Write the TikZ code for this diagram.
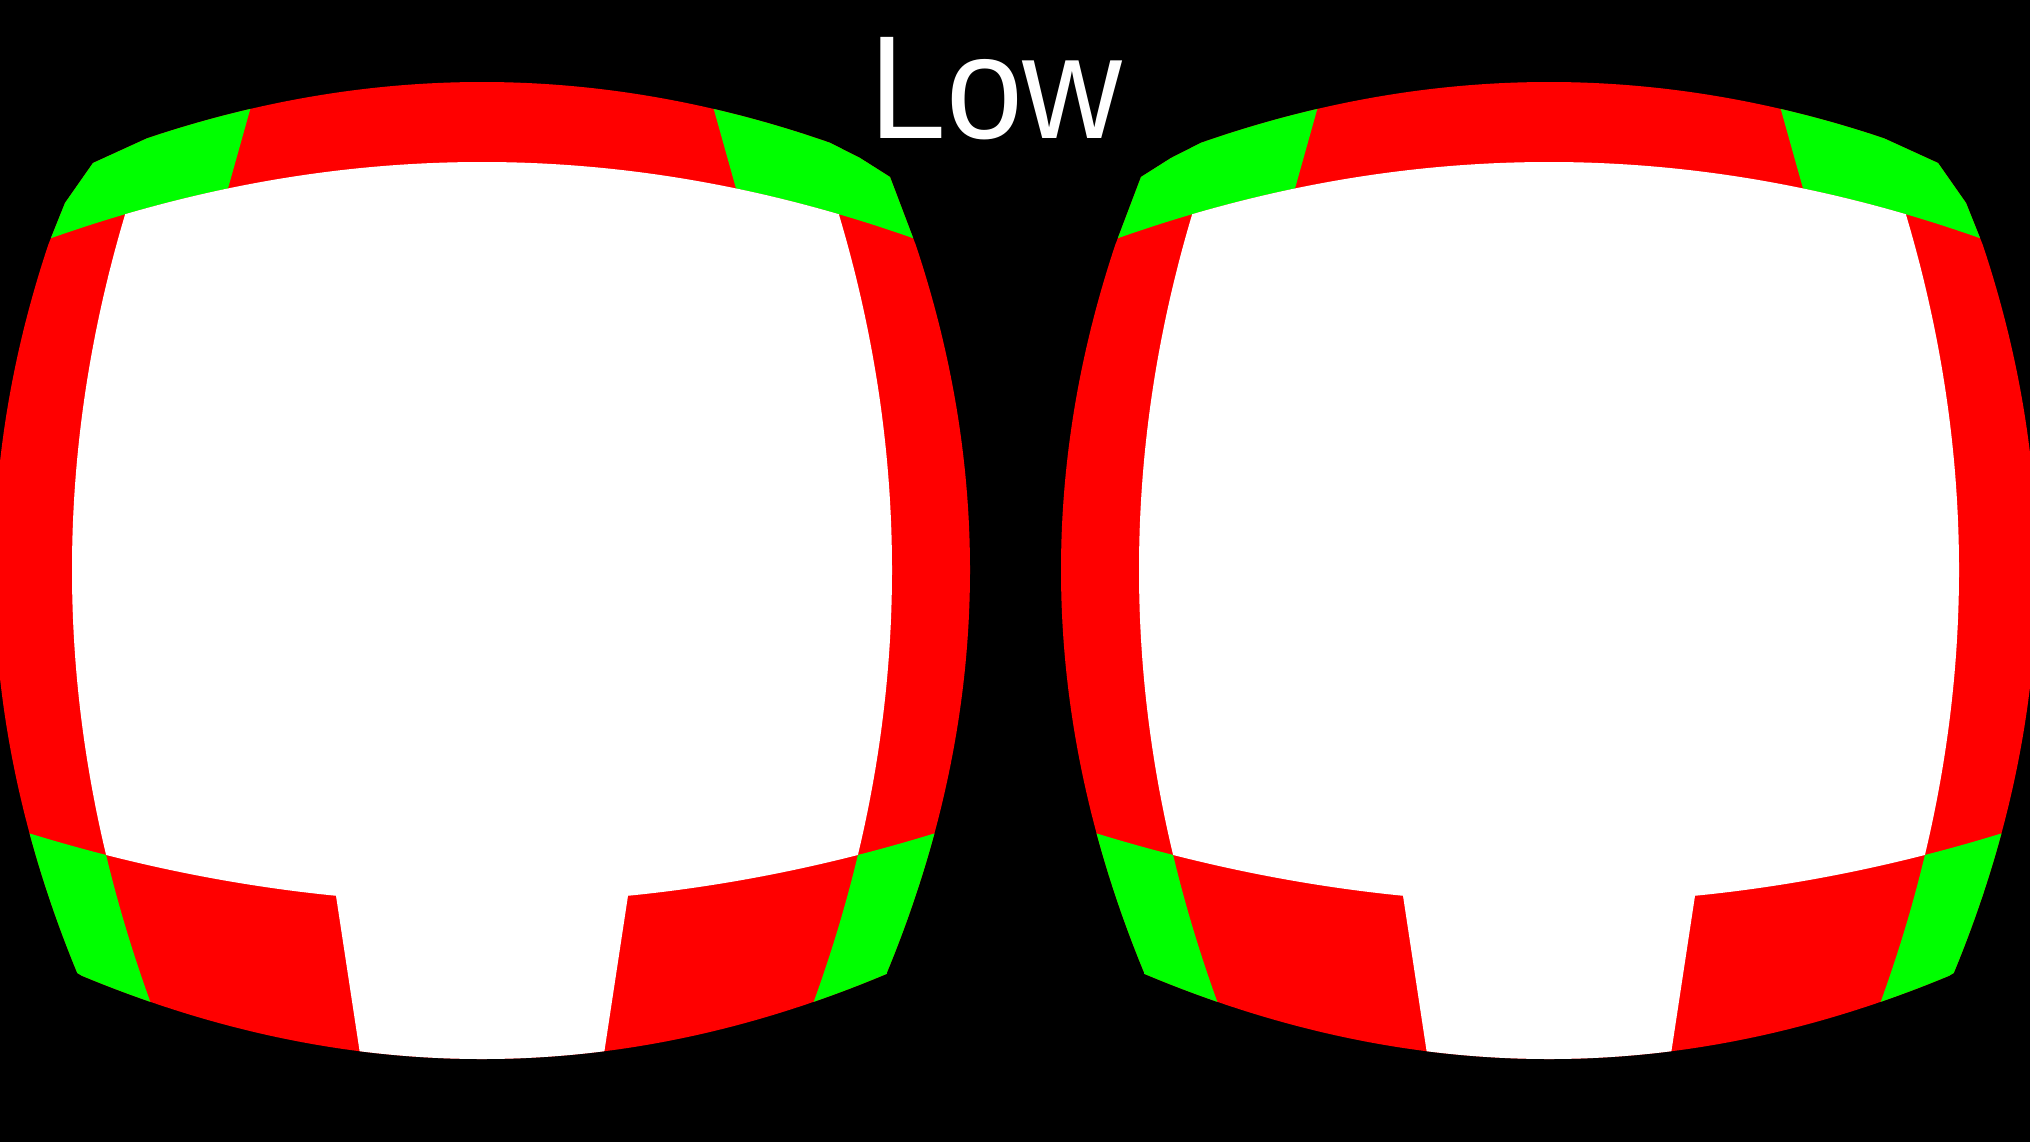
\documentclass[tikz,border=0pt]{standalone}
\usepackage{fontspec}
\setmainfont{Liberation Sans}
\definecolor{lensred}{RGB}{255,0,0}
\definecolor{lensgreen}{RGB}{0,255,0}
\tikzset{
  bgfill/.style={fill=black},
  lensband/.style={fill=lensred},
  lenscorner/.style={fill=lensgreen},
  lensview/.style={fill=white},
  lowlabel/.style={text=white, inner sep=0pt, anchor=base, xscale=0.94, font=\fontsize{41.8pt}{42pt}\selectfont},
  curvepts/.style={samples=60, variable=\t, smooth}
}
% outer rim of one lens (relative to its centre line)
\newcommand\lensouter{%
  plot[curvepts, domain=-335:348] (\t, {82+5.02*(\t/100)^2})
  -- (378,158) -- (408,177) -- (433,243)
  -- plot[curvepts, domain=243:973] ({488-5.13*((\t-570)/100)^2}, \t)
  -- plot[curvepts, domain=-405:400] ({-\t}, {1059-5.2*(\t/100)^2})
  -- plot[curvepts, domain=-973:-245] ({-488+5.13*((-\t-570)/100)^2}, {-\t})
  -- (-417,203) -- (-389,163) -- cycle}
% white viewing area
\newcommand\lensinner{%
  plot[curvepts, domain=-357:357] (\t, {162+4.1*(\t/100)^2})
  -- plot[curvepts, domain=214:855] ({410-4.2*((\t-570)/100)^2}, \t)
  -- plot[curvepts, domain=-376:-146] ({-\t}, {903-3.4*(\t/100)^2})
  -- (115,1100) -- (-115,1100)
  -- plot[curvepts, domain=146:376] ({-\t}, {903-3.4*(\t/100)^2})
  -- plot[curvepts, domain=-855:-214] ({-410+4.2*((-\t-570)/100)^2}, {-\t})
  -- cycle}
\newcommand\drawlens{%
  \fill[lensband] \lensouter;
  \begin{scope}
    \clip \lensouter;
    \fill[lenscorner] plot[curvepts, domain=254:520] ({-\t}, {162+4.1*(\t/100)^2})
      -- (-520,40) -- (-218,60) -- cycle;
    \fill[lenscorner] plot[curvepts, domain=254:520] (\t, {162+4.1*(\t/100)^2})
      -- (520,40) -- (218,60) -- cycle;
    \fill[lenscorner] plot[curvepts, domain=376:520] ({-\t}, {903-3.4*(\t/100)^2})
      -- (-520,1100)
      -- plot[curvepts, domain=-1100:-855] ({-410+4.2*((-\t-570)/100)^2}, {-\t}) -- cycle;
    \fill[lenscorner] plot[curvepts, domain=376:520] (\t, {903-3.4*(\t/100)^2})
      -- (520,1100)
      -- plot[curvepts, domain=-1100:-855] ({410-4.2*((-\t-570)/100)^2}, {-\t}) -- cycle;
    \fill[lensview] \lensinner;
  \end{scope}%
}
\begin{document}
\begin{tikzpicture}[x=0.01cm, y=-0.01cm]
  \useasboundingbox (0,0) rectangle (2030,1142);
  \clip (0,0) rectangle (2030,1142);
  \fill[bgfill] (0,0) rectangle (2030,1142);
  \begin{scope}[shift={(482,0)}]
    \drawlens
  \end{scope}
  \begin{scope}[shift={(1549,0)}, xscale=-1]
    \drawlens
  \end{scope}
  \node[lowlabel] (low) at (996,138) {Low};
\end{tikzpicture}
\end{document}
